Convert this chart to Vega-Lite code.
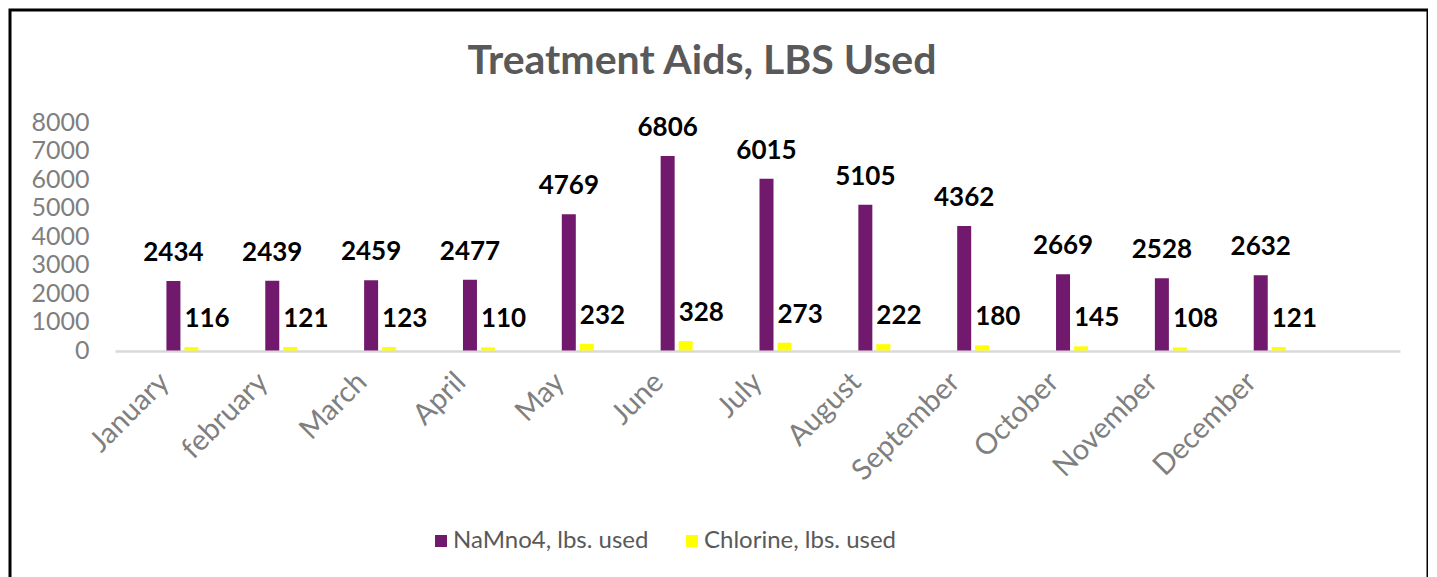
{
  "$schema": "https://vega.github.io/schema/vega-lite/v6.json",
  "width": 1418,
  "height": 580,
  "autosize": {"type": "none"},
  "padding": {"left": 10, "top": 10, "right": 0, "bottom": 0},
  "background": "white",
  "config": {"font": "Lato", "view": {"stroke": "#000000", "strokeWidth": 3}},
  "title": {"text": "Treatment Aids, LBS Used", "fontSize": 41, "fontWeight": "bold", "color": "#595959", "anchor": "middle", "offset": -105, "dx": -17, "baseline": "alphabetic"},
  "data": {"values": [
    {"month": "January", "series": "NaMno4, lbs. used", "value": 2434},
    {"month": "february", "series": "NaMno4, lbs. used", "value": 2439},
    {"month": "March", "series": "NaMno4, lbs. used", "value": 2459},
    {"month": "April", "series": "NaMno4, lbs. used", "value": 2477},
    {"month": "May", "series": "NaMno4, lbs. used", "value": 4769},
    {"month": "June", "series": "NaMno4, lbs. used", "value": 6806},
    {"month": "July", "series": "NaMno4, lbs. used", "value": 6015},
    {"month": "August", "series": "NaMno4, lbs. used", "value": 5105},
    {"month": "September", "series": "NaMno4, lbs. used", "value": 4362},
    {"month": "October", "series": "NaMno4, lbs. used", "value": 2669},
    {"month": "November", "series": "NaMno4, lbs. used", "value": 2528},
    {"month": "December", "series": "NaMno4, lbs. used", "value": 2632},
    {"month": "January", "series": "Chlorine, lbs. used", "value": 116},
    {"month": "february", "series": "Chlorine, lbs. used", "value": 121},
    {"month": "March", "series": "Chlorine, lbs. used", "value": 123},
    {"month": "April", "series": "Chlorine, lbs. used", "value": 110},
    {"month": "May", "series": "Chlorine, lbs. used", "value": 232},
    {"month": "June", "series": "Chlorine, lbs. used", "value": 328},
    {"month": "July", "series": "Chlorine, lbs. used", "value": 273},
    {"month": "August", "series": "Chlorine, lbs. used", "value": 222},
    {"month": "September", "series": "Chlorine, lbs. used", "value": 180},
    {"month": "October", "series": "Chlorine, lbs. used", "value": 145},
    {"month": "November", "series": "Chlorine, lbs. used", "value": 108},
    {"month": "December", "series": "Chlorine, lbs. used", "value": 121}
  ]},
  "encoding": {
    "x": {"field": "month", "type": "nominal",
      "scale": {"domain": ["January", "february", "March", "April", "May", "June", "July", "August", "September", "October", "November", "December", " "], "range": [105, 1390], "paddingInner": 0, "paddingOuter": 0},
      "axis": {"title": null, "labelAngle": -45, "labelAlign": "right", "labelBaseline": "middle", "labelFontSize": 29, "labelColor": "#7f7f7f", "labelPadding": 26, "ticks": false, "grid": false, "domainColor": "#d9d9d9", "domainWidth": 2.5, "offset": -239}},
    "xOffset": {"field": "series", "type": "nominal",
      "scale": {"domain": ["s1", "s2", "NaMno4, lbs. used", "Chlorine, lbs. used"], "paddingInner": 0.222, "paddingOuter": 0.857}},
    "y": {"field": "value", "type": "quantitative",
      "scale": {"domain": [0, 8000], "range": [340.5, 112], "nice": false},
      "axis": {"title": null, "ticks": false, "domain": false, "grid": false, "format": "d", "labelFontSize": 25, "labelColor": "#7f7f7f", "labelPadding": 26, "offset": -105, "values": [0, 1000, 2000, 3000, 4000, 5000, 6000, 7000, 8000]}}
  },
  "layer": [
    {
      "mark": {"type": "bar"},
      "encoding": {
        "color": {"field": "series", "type": "nominal",
          "scale": {"domain": ["NaMno4, lbs. used", "Chlorine, lbs. used"], "range": ["#711A6D", "#FFFF00"]},
          "legend": {"orient": "none", "legendX": 419, "legendY": 519, "direction": "horizontal", "title": null, "symbolType": "square", "symbolSize": 144, "symbolStrokeWidth": 0, "labelFontSize": 24, "labelColor": "#595959", "labelLimit": 500, "columnPadding": 31, "labelOffset": 0}}
      }
    },
    {
      "transform": [{"filter": "datum.series === 'NaMno4, lbs. used'"}],
      "mark": {"type": "text", "fontSize": 26, "fontWeight": "bold", "color": "#000000", "align": "center", "baseline": "alphabetic", "dy": -20},
      "encoding": {"text": {"field": "value", "type": "quantitative", "format": "d"}}
    },
    {
      "transform": [{"filter": "datum.series === 'Chlorine, lbs. used'"}],
      "mark": {"type": "text", "fontSize": 26, "fontWeight": "bold", "color": "#000000", "align": "left", "baseline": "alphabetic", "dx": -7, "dy": -20},
      "encoding": {"text": {"field": "value", "type": "quantitative", "format": "d"}}
    }
  ]
}
